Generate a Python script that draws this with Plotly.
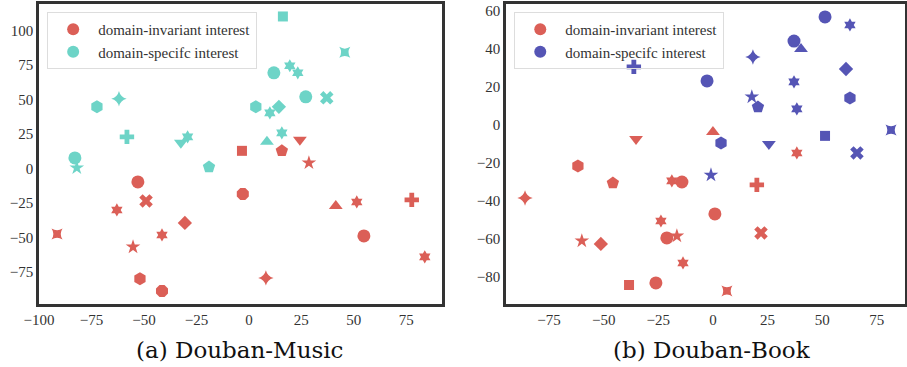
import plotly.graph_objects as go

RED = "#db5f57"
CYAN = "#6dd4c7"
BLUE = "#5555b5"

# ---- (a) Douban-Music ----
music_inv_x = [-3.3, 15.7, 24.3, 28.6, -52.9, -49.0, -62.9, -30.5, -91.4, -41.4,
               -55.2, -51.9, -41.4, -2.9, 41.4, 51.4, 77.6, 54.8, 83.8, 8.1]
music_inv_y = [12.7, 12.7, 20.7, 4.0, -9.8, -23.6, -30.1, -39.5, -47.5, -48.2,
               -56.9, -80.0, -88.8, -18.5, -27.2, -24.3, -22.8, -48.9, -64.1, -79.3]
music_inv_sym = ["square", "pentagon", "triangle-down", "star", "circle", "x", "hexagram",
                 "diamond", "star-square", "hexagram", "star", "hexagon", "octagon", "octagon",
                 "triangle-up", "hexagram", "cross", "circle", "hexagram", "star-diamond"]

music_spe_x = [-72.4, -61.9, -58.1, -32.4, -29.2, -82.9, -82.0, -19.0, 16.2, 45.7,
               11.9, 19.5, 23.3, 27.1, 37.1, 3.3, 14.3, 10.0, 15.7, 8.6]
music_spe_y = [44.6, 50.4, 22.8, 18.5, 22.8, 7.6, 0.4, 1.0, 110.0, 84.0,
               69.2, 74.3, 69.2, 51.8, 51.1, 44.6, 44.6, 40.2, 25.7, 19.2]
music_spe_sym = ["hexagon", "star-diamond", "cross", "triangle-down", "hexagram", "circle",
                 "star", "pentagon", "square", "star-square", "circle", "hexagram", "hexagram",
                 "circle", "x", "hexagon", "diamond", "hexagram", "hexagram", "triangle-up"]

# ---- (b) Douban-Book ----
book_inv_x = [0.0, 38.4, -35.2, -61.8, -45.8, -86.0, -18.8, -14.2, -23.8, -21.1,
              -16.5, -60.0, -51.3, -13.7, -38.4, -26.1, 20.1, 0.9, 22.0, 6.4]
book_inv_y = [-3.9, -15.0, -7.6, -21.8, -30.8, -38.7, -29.7, -30.3, -50.8, -59.7,
              -58.7, -61.3, -62.9, -72.9, -84.5, -83.4, -31.8, -47.1, -57.1, -87.6]
book_inv_sym = ["triangle-up", "hexagram", "triangle-down", "hexagon", "pentagon",
                "star-diamond", "hexagram", "circle", "hexagram", "circle", "star", "star",
                "diamond", "hexagram", "square", "circle", "cross", "circle", "x", "star-square"]

book_spe_x = [-36.2, 51.3, 62.7, 37.1, 40.3, 18.3, 60.9, -2.7, 37.1, 62.7,
              17.8, 20.6, 38.4, 51.3, 81.5, 3.7, 25.6, 65.9, -0.9]
book_spe_y = [30.3, 56.6, 52.4, 43.9, 39.7, 35.5, 29.2, 22.9, 22.4, 13.9,
              14.5, 9.2, 8.2, -6.0, -2.9, -9.7, -10.3, -15.0, -26.6]
book_spe_sym = ["cross", "circle", "hexagram", "circle", "triangle-up", "star-diamond",
                "diamond", "circle", "hexagram", "hexagon", "star", "pentagon", "hexagram",
                "square", "star-square", "hexagon", "triangle-down", "x", "star"]

legend_labels = ["domain-invariant interest", "domain-specifc interest"]
captions = ["(a) Douban-Music", "(b) Douban-Book"]

size_map = {"circle": 13, "octagon": 13, "hexagon": 13, "pentagon": 13, "star": 11,
            "hexagram": 10, "star-diamond": 11, "diamond": 11, "square": 10,
            "triangle-up": 12, "triangle-down": 12, "cross": 12, "x": 12, "star-square": 10}

fig = go.Figure()


def add_group(xs, ys, syms, color, xa, ya):
    fig.add_trace(go.Scatter(
        x=xs, y=ys, mode="markers", xaxis=xa, yaxis=ya, showlegend=False,
        marker=dict(symbol=syms, color=color, size=[size_map[s] for s in syms],
                    opacity=1, line=dict(width=0)),
        hoverinfo="skip"))


add_group(music_inv_x, music_inv_y, music_inv_sym, RED, "x", "y")
add_group(music_spe_x, music_spe_y, music_spe_sym, CYAN, "x", "y")
add_group(book_inv_x, book_inv_y, book_inv_sym, RED, "x2", "y2")
add_group(book_spe_x, book_spe_y, book_spe_sym, BLUE, "x2", "y2")

# legend entries
for lab, col in zip(legend_labels, [RED, CYAN]):
    fig.add_trace(go.Scatter(x=[None], y=[None], mode="markers", name=lab, xaxis="x", yaxis="y",
                             marker=dict(symbol="circle", color=col, size=9, opacity=1),
                             legend="legend"))
for lab, col in zip(legend_labels, [RED, BLUE]):
    fig.add_trace(go.Scatter(x=[None], y=[None], mode="markers", name=lab, xaxis="x2", yaxis="y2",
                             marker=dict(symbol="circle", color=col, size=9, opacity=1),
                             legend="legend2"))

FONT = "Liberation Serif"
axis_common = dict(showgrid=False, zeroline=False, showline=True, mirror=True,
                   linecolor="#333333", linewidth=2.5, ticks="", ticklen=0, automargin=False,
                   tickfont=dict(family=FONT, size=15, color="#333333"))

legend_style = dict(font=dict(family=FONT, size=15, color="#333333"),
                    bgcolor="rgba(255,255,255,0)", bordercolor="#dddddd", borderwidth=1,
                    xanchor="left", yanchor="top", itemsizing="constant", tracegroupgap=0,
                    itemwidth=40)

fig.update_layout(
    width=907, height=367,
    margin=dict(l=0, r=0, t=0, b=0, autoexpand=False),
    paper_bgcolor="white", plot_bgcolor="white",
    xaxis=dict(domain=[0.043, 0.4873], range=[-100, 92], tickvals=[-100, -75, -50, -25, 0, 25, 50, 75],
               anchor="y", **axis_common),
    yaxis=dict(domain=[0.1717, 0.989], range=[-98.2, 119], tickvals=[-75, -50, -25, 0, 25, 50, 75, 100],
               anchor="x", **axis_common),
    xaxis2=dict(domain=[0.5579, 0.9978], range=[-94.7, 87.9], tickvals=[-75, -50, -25, 0, 25, 50, 75],
                anchor="y2", **axis_common),
    yaxis2=dict(domain=[0.1717, 0.989], range=[-94.5, 63.4], tickvals=[-80, -60, -40, -20, 0, 20, 40, 60],
                anchor="x2", **axis_common),
    legend=dict(x=0.052, y=0.967, **legend_style),
    legend2=dict(x=0.567, y=0.967, **legend_style),
    annotations=[
        dict(text=captions[0], x=0.265, y=0.046, xref="paper", yref="paper", xanchor="center",
             yanchor="middle", showarrow=False,
             font=dict(family="DejaVu Serif", size=23, color="#111111")),
        dict(text=captions[1], x=0.785, y=0.046, xref="paper", yref="paper", xanchor="center",
             yanchor="middle", showarrow=False,
             font=dict(family="DejaVu Serif", size=23, color="#111111")),
    ],
)

fig.write_html("out.html", config={"displayModeBar": False},
               post_script="document.body.style.margin='0';document.body.style.padding='0';")
